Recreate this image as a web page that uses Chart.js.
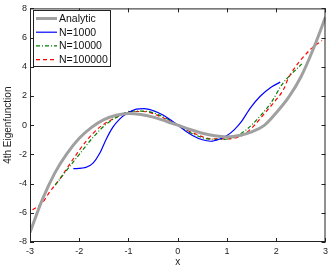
<!DOCTYPE html>
<html>
<head>
<meta charset="utf-8">
<script src="https://cdn.jsdelivr.net/npm/chart.js@4.4.1/dist/chart.umd.min.js"></script>
<style>
  html, body { margin: 0; padding: 0; background: #fff; }
  canvas { display: block; }
</style>
</head>
<body>
<canvas id="chart" width="332" height="268"></canvas>
<script>
// values
const analyticX = [-3, -2.75, -2.5, -2.25, -2, -1.75, -1.5, -1.25, -1, -0.75, -0.5, -0.25, 0,
                   0.25, 0.5, 0.75, 1, 1.25, 1.5, 1.75, 2, 2.25, 2.5, 2.75, 3];
const analyticY = [-7.35, -5.1, -3.3, -1.95, -0.9, -0.15, 0.38, 0.68, 0.8, 0.73, 0.55, 0.29, 0,
                   -0.29, -0.55, -0.73, -0.8, -0.7, -0.45, -0.03, 0.85, 1.9, 3.3, 5.2, 7.4];

const n1000X = [-2.12, -1.95, -1.85, -1.72, -1.59, -1.45, -1.32, -1.18, -1.05, -0.84, -0.68, -0.5, -0.3, -0.15, 0,
                0.15, 0.3, 0.5, 0.67, 0.85, 1.0, 1.15, 1.28, 1.48, 1.68, 1.88, 2.08];
const n1000Y = [-2.98, -2.94, -2.87, -2.6, -1.96, -0.94, -0.15, 0.42, 0.76, 1.1, 1.14, 1.0, 0.7, 0.38, 0,
                -0.38, -0.7, -1.0, -1.1, -0.95, -0.71, -0.3, 0.19, 1.21, 2.0, 2.57, 2.95];

const n10000X = [-2.49, -2.23, -1.99, -1.72, -1.45, -1.18, -0.95, -0.64, -0.31, 0,
                 0.31, 0.64, 0.9, 1.14, 1.41, 1.68, 1.92, 2.12, 2.52];
const n10000Y = [-4.1, -2.98, -1.96, -0.83, 0.08, 0.65, 0.97, 0.95, 0.6, 0,
                 -0.6, -0.95, -0.97, -0.83, -0.26, 0.65, 1.67, 2.8, 4.2];

const n100000X = [-2.95, -2.76, -2.6, -2.39, -2.12, -1.85, -1.59, -1.32, -1.12, -0.98, -0.71, -0.31, 0,
                  0.31, 0.71, 0.98, 1.31, 1.55, 1.75, 1.95, 2.15, 2.25, 2.69, 2.93];
const n100000Y = [-5.8, -5.36, -4.57, -3.66, -2.3, -1.05, -0.15, 0.42, 0.76, 0.94, 0.94, 0.53, 0,
                  -0.53, -0.94, -0.94, -0.71, -0.03, 0.76, 1.55, 2.46, 3.25, 5.18, 5.8];

const xTicks = [-3, -2, -1, 0, 1, 2, 3];
const yTicks = [-8, -6, -4, -2, 0, 2, 4, 6, 8];

const toPoints = (xs, ys) => xs.map((x, i) => ({ x: x, y: ys[i] }));

const FONT = 'Liberation Sans, Arial, Helvetica, sans-serif';

// box, inward ticks, legend and axis titles in the matlab look
const matlabFrame = {
  id: 'matlab-frame',
  afterDraw: function (chart) {
    const { ctx, chartArea: { top, bottom, left, right } } = chart;
    const xs = chart.scales.x, ys = chart.scales.y;
    ctx.save();
    ctx.strokeStyle = '#222';
    ctx.lineWidth = 1;
    ctx.strokeRect(left + 0.5, top + 0.5, right - left - 1, bottom - top - 1);
    ctx.beginPath();
    xTicks.forEach(v => {
      const px = Math.round(xs.getPixelForValue(v)) + 0.5;
      ctx.moveTo(px, bottom); ctx.lineTo(px, bottom - 4);
      ctx.moveTo(px, top); ctx.lineTo(px, top + 4);
    });
    yTicks.forEach(v => {
      const py = Math.round(ys.getPixelForValue(v)) + 0.5;
      ctx.moveTo(left, py); ctx.lineTo(left + 4, py);
      ctx.moveTo(right, py); ctx.lineTo(right - 4, py);
    });
    ctx.stroke();

    // legend
    const lx = 33, ly = 10, lw = 77, lh = 56;
    ctx.fillStyle = '#fff';
    ctx.fillRect(lx, ly, lw, lh);
    ctx.strokeRect(lx + 0.5, ly + 0.5, lw, lh);
    ctx.font = `10.5px ${FONT}`;
    ctx.textBaseline = 'middle';
    ctx.textAlign = 'left';
    chart.data.datasets.forEach((ds, i) => {
      const yy = ly + 8.5 + i * 13.7;
      ctx.beginPath();
      ctx.setLineDash(ds.borderDash || []);
      ctx.strokeStyle = ds.borderColor;
      ctx.lineWidth = ds.borderWidth;
      ctx.moveTo(36, yy); ctx.lineTo(57, yy);
      ctx.stroke();
      ctx.setLineDash([]);
      ctx.fillStyle = '#111';
      ctx.fillText(ds.label, 59, yy + 0.5);
    });

    // axis titles
    ctx.fillStyle = '#222';
    ctx.font = `10px ${FONT}`;
    ctx.textAlign = 'center';
    ctx.fillText('x', (left + right) / 2, 262);
    ctx.translate(8, (top + bottom) / 2);
    ctx.rotate(-Math.PI / 2);
    ctx.fillText('4th Eigenfunction', 0, 0);
    ctx.restore();
  }
};

new Chart(document.getElementById('chart'), {
  type: 'line',
  data: {
    datasets: [
      { label: 'Analytic', data: toPoints(analyticX, analyticY), borderColor: '#a0a0a0', borderWidth: 3 },
      { label: 'N=1000', data: toPoints(n1000X, n1000Y), borderColor: '#0000ff', borderWidth: 1.2 },
      { label: 'N=10000', data: toPoints(n10000X, n10000Y), borderColor: '#008000', borderWidth: 1.2, borderDash: [4, 2, 1, 2] },
      { label: 'N=100000', data: toPoints(n100000X, n100000Y), borderColor: '#ff0000', borderWidth: 1.2, borderDash: [4, 3] }
    ]
  },
  options: {
    responsive: false,
    animation: false,
    devicePixelRatio: 1,
    layout: { padding: { top: 7, right: 5, left: 0, bottom: 0 } },
    elements: {
      point: { radius: 0 },
      line: { cubicInterpolationMode: 'monotone', fill: false }
    },
    plugins: {
      legend: { display: false },
      tooltip: { enabled: false }
    },
    scales: {
      x: {
        type: 'linear', min: -3, max: 3,
        afterFit: s => { s.height = 26; },
        afterBuildTicks: s => { s.ticks = xTicks.map(v => ({ value: v })); },
        grid: { display: false, drawTicks: false },
        border: { display: false },
        ticks: { font: { size: 9, family: FONT }, color: '#222', padding: 4, maxRotation: 0 }
      },
      y: {
        type: 'linear', min: -8, max: 8,
        afterFit: s => { s.width = 30; },
        afterBuildTicks: s => { s.ticks = yTicks.map(v => ({ value: v })); },
        grid: { display: false, drawTicks: false },
        border: { display: false },
        ticks: { font: { size: 9, family: FONT }, color: '#222', padding: 3 }
      }
    }
  },
  plugins: [matlabFrame]
});
</script>
</body>
</html>
